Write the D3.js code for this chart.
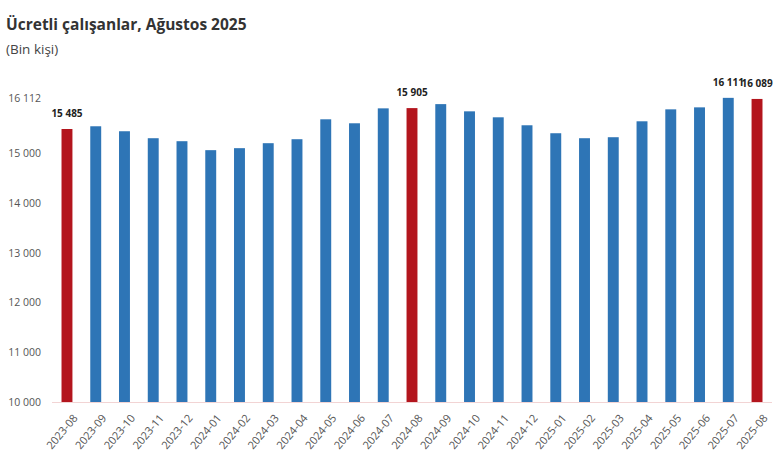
<!DOCTYPE html>
<html><head><meta charset="utf-8">
<script src="https://cdn.jsdelivr.net/npm/d3@7"></script>
<style>body{margin:0;background:#fff;font-family:"Open Sans",sans-serif;}</style>
</head><body><svg id="chart" width="780" height="470"></svg>
<script>
// monthly paid employees (thousand persons)
var data = [
    ["2023-08",15485],["2023-09",15540],["2023-10",15440],["2023-11",15300],["2023-12",15240],
    ["2024-01",15060],["2024-02",15100],["2024-03",15200],["2024-04",15280],["2024-05",15680],
    ["2024-06",15600],["2024-07",15900],["2024-08",15905],["2024-09",15985],["2024-10",15840],
    ["2024-11",15720],["2024-12",15560],["2025-01",15400],["2025-02",15300],["2025-03",15320],
    ["2025-04",15640],["2025-05",15880],["2025-06",15920],["2025-07",16111],["2025-08",16089]
];
var highlight = ["2023-08","2024-08","2025-08"];
var labelled = ["2023-08","2024-08","2025-07","2025-08"];
var fmt = function(v){ return d3.format(",")(v).replace(/,/g," "); };

var svg = d3.select("#chart");
svg.append("text").attr("x",6).attr("y",30).attr("font-size",15.5).attr("font-weight","bold")
    .attr("fill","#333").text("Ücretli çalışanlar, Ağustos 2025");
svg.append("text").attr("x",6).attr("y",54).attr("font-size",13.5).attr("fill","#444").text("(Bin kişi)");

var x = d3.scaleBand().domain(data.map(d => d[0])).range([52.6,771.4]).paddingInner(0.62).paddingOuter(0.31);
var y = d3.scaleLinear().domain([10000,16112]).range([402,97.8]);

var yAxis = svg.append("g").attr("transform","translate(44,0)")
    .call(d3.axisLeft(y).tickValues([10000,11000,12000,13000,14000,15000,16112]).tickSize(0).tickFormat(fmt));
yAxis.select(".domain").remove();
yAxis.selectAll("text").attr("font-size",10.5).attr("fill","#555").attr("font-family","Open Sans");

svg.selectAll(".bar").data(data).enter().append("rect")
    .attr("x", d => x(d[0])).attr("width", x.bandwidth())
    .attr("y", d => y(d[1])).attr("height", d => y(10000) - y(d[1]))
    .attr("fill", d => highlight.indexOf(d[0]) >= 0 ? "#b3151d" : "#2e75b6");

svg.append("line").attr("x1",52).attr("x2",772).attr("y1",402.5).attr("y2",402.5).attr("stroke","#f2d4d4");

svg.selectAll(".lbl").data(data.filter(d => labelled.indexOf(d[0]) >= 0)).enter().append("text")
    .attr("x", d => x(d[0]) + x.bandwidth()/2).attr("y", d => y(d[1]) - 12)
    .attr("text-anchor","middle").attr("font-size",10).attr("font-weight","bold").attr("fill","#222")
    .text(d => fmt(d[1]));

var xAxis = svg.append("g").attr("transform","translate(0,402)").call(d3.axisBottom(x).tickSize(0));
xAxis.select(".domain").remove();
xAxis.selectAll("text").attr("font-size",11).attr("fill","#555").attr("font-family","Open Sans")
    .attr("text-anchor","end").attr("dy","0.35em").attr("transform","translate(6,12) rotate(-50)");
</script></body></html>
